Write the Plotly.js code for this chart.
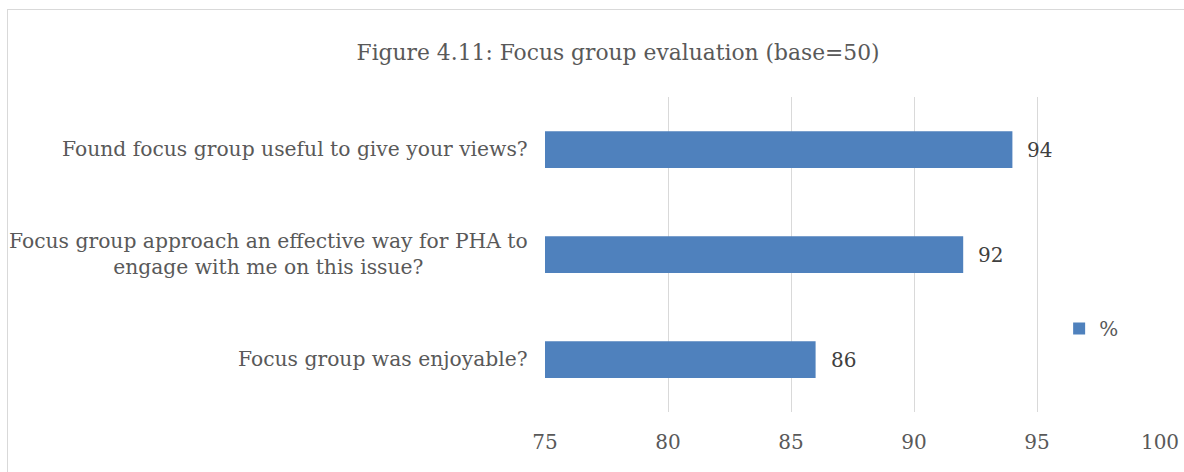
<!DOCTYPE html>
<html>
<head>
<meta charset="utf-8">
<script src="https://cdn.plot.ly/plotly-3.0.1.min.js"></script>
<style>
  html, body { margin: 0; padding: 0; background: #fff; }
  #wrap { position: relative; width: 1184px; height: 472px; overflow: hidden; }
  #chart { position: absolute; left: 0; top: 0; width: 1184px; height: 472px; }
  #frame { position: absolute; left: 7px; top: 9px; width: 1200px; height: 500px; border: 1px solid #d9d9d9; pointer-events: none; }
</style>
</head>
<body>
<div id="wrap">
  <div id="chart"></div>
  <div id="frame"></div>
</div>
<script>
var categories = [
  "Focus group was enjoyable?",
  "Focus group approach an effective way for PHA to<br>engage with me on this issue?",
  "Found focus group useful to give your views?"
];
var values = [86, 92, 94];
var seriesName = "%";
var tickVals = [75, 80, 85, 90, 95, 100];
var titleText = "Figure 4.11: Focus group evaluation (base=50)";

var FONT = "DejaVu Serif, Liberation Serif, serif";
var GRAY = "#595959";

var trace = {
  type: "bar",
  orientation: "h",
  y: categories,
  x: values,
  name: seriesName,
  marker: { color: "#4F81BD" },
  hoverinfo: "x+y"
};

var catAnnotations = categories.map(function (c) {
  return {
    xref: "paper", yref: "y", x: -0.024, y: c,
    xanchor: "right", yanchor: "middle", align: "center",
    text: c, showarrow: false, yshift: 1,
    font: { family: FONT, size: 20.3, color: GRAY }
  };
});

var valueAnnotations = values.map(function (v, i) {
  return {
    xref: "x", yref: "y", x: v, y: categories[i],
    xanchor: "left", yanchor: "middle", xshift: 13, yshift: 0,
    text: String(v), showarrow: false,
    font: { family: FONT, size: 20, color: "#404040" }
  };
});

var layout = {
  width: 1184, height: 472,
  margin: { l: 545, r: 24, t: 97, b: 60, pad: 0 },
  paper_bgcolor: "rgba(0,0,0,0)",
  plot_bgcolor: "rgba(0,0,0,0)",
  title: {
    text: titleText,
    font: { family: FONT, size: 21.8, color: GRAY },
    x: 0.522, xanchor: "center", y: 0.89, yanchor: "middle"
  },
  bargap: 0.65,
  xaxis: {
    range: [75, 100],
    tickvals: tickVals,
    showgrid: true, gridcolor: "#d9d9d9", gridwidth: 1,
    zeroline: false, showline: false, ticks: "",
    tickfont: { family: FONT, size: 20, color: GRAY },
    ticklabelstandoff: 16
  },
  yaxis: {
    showticklabels: false, showgrid: false, zeroline: false, showline: false, ticks: ""
  },
  showlegend: true,
  legend: {
    x: 0.836, y: 0.265, xanchor: "left", yanchor: "middle",
    bgcolor: "rgba(0,0,0,0)",
    font: { family: FONT, size: 20, color: GRAY },
    itemwidth: 30
  },
  annotations: catAnnotations.concat(valueAnnotations)
};

Plotly.newPlot("chart", [trace], layout, { displayModeBar: false, staticPlot: true });
</script>
</body>
</html>
